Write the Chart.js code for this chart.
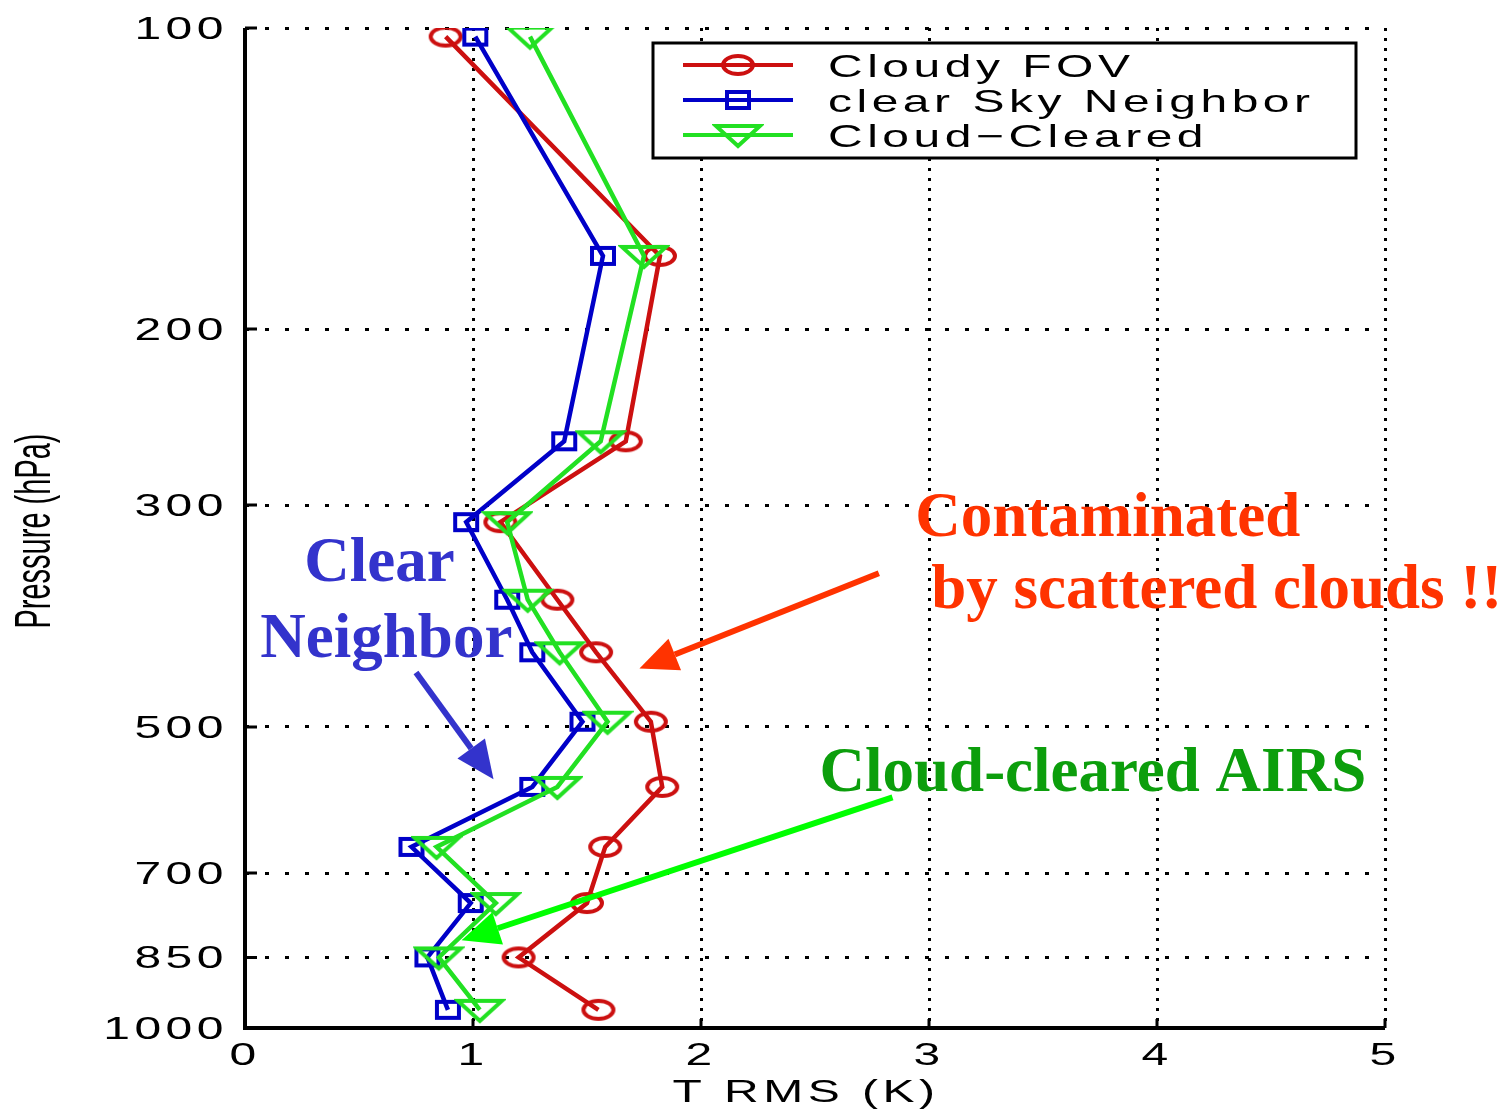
<!DOCTYPE html>
<html>
<head>
<meta charset="utf-8">
<title>T RMS profile</title>
<script src="https://cdn.jsdelivr.net/npm/chart.js@4.4.1/dist/chart.umd.min.js"></script>
<style>
  html, body { margin: 0; padding: 0; background: #fff; }
  canvas { display: block; }
</style>
</head>
<body>
<canvas id="rmsChart" width="1512" height="1109"></canvas>
<script>
// pressure levels (hPa) and temperature RMS (K) at each level
const pressureLevels   = [102, 169, 259, 312, 373, 421, 494, 574, 659, 750, 850, 959];
const cloudyFov        = [0.88, 1.82, 1.67, 1.12, 1.37, 1.54, 1.78, 1.83, 1.58, 1.50, 1.20, 1.55];
const clearSkyNeighbor = [1.01, 1.57, 1.40, 0.97, 1.15, 1.26, 1.48, 1.26, 0.73, 0.99, 0.80, 0.89];
const cloudCleared     = [1.25, 1.75, 1.56, 1.15, 1.24, 1.38, 1.59, 1.37, 0.84, 1.10, 0.85, 1.03];

const seriesLabels = ['Cloudy FOV', 'clear Sky Neighbor', 'Cloud\u2212Cleared'];
const xTicks = [0, 1, 2, 3, 4, 5];
const yTicks = [100, 200, 300, 500, 700, 850, 1000];
const xTitle = 'T RMS (K)';
const yTitle = 'Pressure (hPa)';

// callouts, placed in data units (T RMS, hPa)
const notes = [
  { text: 'Contaminated',           x: 2.94, p: 322, color: '#FF3300', align: 'left' },
  { text: 'by scattered clouds !!', x: 3.01, p: 380, color: '#FF3300', align: 'left' },
  { text: 'Clear',                  x: 0.59, p: 357, color: '#3333CC', align: 'center' },
  { text: 'Neighbor',               x: 0.62, p: 426, color: '#3333CC', align: 'center' },
  { text: 'Cloud-cleared AIRS',     x: 2.52, p: 579, color: '#0C9E0C', align: 'left' }
];
const arrows = [
  { from: [2.78, 351], to: [1.73, 437], color: '#FF3300' },
  { from: [0.75, 441], to: [1.09, 564], color: '#3333CC' },
  { from: [2.84, 588], to: [0.95, 817], color: '#00FF00' }
];

const RED = '#CC1010', BLUE = '#0000C8', GREEN = '#22E022';

// hollow markers, wider than tall like the stretched matlab plot
function makeMarker(kind, color) {
  const c = document.createElement('canvas');
  c.width = kind === 'triangle' ? 52 : kind === 'circle' ? 40 : 32;
  c.height = kind === 'triangle' ? 30 : 26;
  const g = c.getContext('2d');
  const cx = c.width / 2, cy = c.height / 2;
  g.strokeStyle = color;
  g.lineWidth = 4;
  g.beginPath();
  if (kind === 'circle') {
    g.ellipse(cx, cy, 15, 9, 0, 0, Math.PI * 2);
  } else if (kind === 'square') {
    g.rect(cx - 11, cy - 8, 22, 16);
  } else {
    g.moveTo(cx - 22, cy - 9);
    g.lineTo(cx + 22, cy - 9);
    g.lineTo(cx, cy + 11);
    g.closePath();
  }
  g.stroke();
  return c;
}

const markers = [makeMarker('circle', RED), makeMarker('square', BLUE), makeMarker('triangle', GREEN)];

function toPoints(values) {
  return values.map((v, i) => ({ x: v, y: pressureLevels[i] }));
}

// text squeezed into the wide matlab look
function wideText(ctx, text, x, y, align) {
  ctx.save();
  ctx.font = '32px "Liberation Sans", Arial, sans-serif';
  ctx.letterSpacing = '3px';
  ctx.textBaseline = 'alphabetic';
  ctx.textAlign = 'left';
  const sx = 1.5;
  const w = ctx.measureText(text).width * sx;
  const x0 = align === 'right' ? x - w : align === 'center' ? x - w / 2 : x;
  ctx.translate(x0, y);
  ctx.scale(sx, 1);
  ctx.fillStyle = '#000';
  ctx.fillText(text, 0, 0);
  ctx.restore();
}

function drawArrow(ctx, x1, y1, x2, y2, color) {
  const ang = Math.atan2(y2 - y1, x2 - x1);
  const len = 38, half = 17;
  const bx = x2 - len * Math.cos(ang), by = y2 - len * Math.sin(ang);
  ctx.save();
  ctx.strokeStyle = color;
  ctx.fillStyle = color;
  ctx.lineWidth = 6;
  ctx.beginPath();
  ctx.moveTo(x1, y1);
  ctx.lineTo(bx, by);
  ctx.stroke();
  ctx.beginPath();
  ctx.moveTo(x2, y2);
  ctx.lineTo(bx + half * Math.sin(ang), by - half * Math.cos(ang));
  ctx.lineTo(bx - half * Math.sin(ang), by + half * Math.cos(ang));
  ctx.closePath();
  ctx.fill();
  ctx.restore();
}

const framePlugin = {
  id: 'frame',
  afterDraw(chart) {
    const { ctx, chartArea: a, scales: { x, y } } = chart;
    ctx.save();

    // solid left/bottom axes with inward ticks
    ctx.strokeStyle = '#000';
    ctx.lineWidth = 4;
    ctx.beginPath();
    ctx.moveTo(a.left, a.top);
    ctx.lineTo(a.left, a.bottom);
    ctx.lineTo(a.right, a.bottom);
    ctx.stroke();
    ctx.lineWidth = 3;
    ctx.beginPath();
    yTicks.forEach(v => {
      const py = y.getPixelForValue(v);
      ctx.moveTo(a.left, py);
      ctx.lineTo(a.left + 12, py);
    });
    xTicks.forEach(v => {
      const px = x.getPixelForValue(v);
      ctx.moveTo(px, a.bottom);
      ctx.lineTo(px, a.bottom - 9);
    });
    ctx.stroke();

    // tick labels
    yTicks.forEach(v => wideText(ctx, String(v), a.left - 17, y.getPixelForValue(v) + 11, 'right'));
    xTicks.forEach(v => wideText(ctx, String(v), x.getPixelForValue(v), a.bottom + 37, 'center'));

    // axis titles
    wideText(ctx, xTitle, (a.left + a.right) / 2 - 9, a.bottom + 74, 'center');
    ctx.save();
    ctx.translate(36, (a.top + a.bottom) / 2 + 3);
    ctx.scale(1.75, 1);
    ctx.rotate(-Math.PI / 2);
    ctx.font = '29px "Liberation Sans", Arial, sans-serif';
    ctx.textAlign = 'center';
    ctx.textBaseline = 'middle';
    ctx.fillStyle = '#000';
    ctx.fillText(yTitle, 0, 0);
    ctx.restore();

    // legend box
    const lx = a.left + 408, ly = a.top + 15, lw = 703, lh = 115;
    ctx.fillStyle = '#fff';
    ctx.fillRect(lx, ly, lw, lh);
    ctx.strokeStyle = '#000';
    ctx.lineWidth = 3;
    ctx.strokeRect(lx, ly, lw, lh);
    chart.data.datasets.forEach((ds, i) => {
      const ry = ly + 22 + i * 35;
      ctx.strokeStyle = ds.borderColor;
      ctx.lineWidth = 4;
      ctx.beginPath();
      ctx.moveTo(lx + 30, ry);
      ctx.lineTo(lx + 140, ry);
      ctx.stroke();
      const m = ds.pointStyle;
      ctx.drawImage(m, lx + 85 - m.width / 2, ry - m.height / 2);
      wideText(ctx, ds.label, lx + 175, ry + 12, 'left');
    });

    // callouts
    arrows.forEach(ar => {
      drawArrow(ctx,
        x.getPixelForValue(ar.from[0]), y.getPixelForValue(ar.from[1]),
        x.getPixelForValue(ar.to[0]), y.getPixelForValue(ar.to[1]), ar.color);
    });
    ctx.font = 'bold 63px "Liberation Serif", "Times New Roman", serif';
    ctx.textBaseline = 'alphabetic';
    notes.forEach(n => {
      ctx.fillStyle = n.color;
      ctx.textAlign = n.align;
      ctx.fillText(n.text, x.getPixelForValue(n.x), y.getPixelForValue(n.p));
    });

    ctx.restore();
  }
};

new Chart(document.getElementById('rmsChart'), {
  type: 'scatter',
  data: {
    datasets: [
      { label: seriesLabels[0], data: toPoints(cloudyFov), borderColor: RED, backgroundColor: RED,
        pointStyle: markers[0], showLine: true, borderWidth: 4.5, order: 3 },
      { label: seriesLabels[1], data: toPoints(clearSkyNeighbor), borderColor: BLUE, backgroundColor: BLUE,
        pointStyle: markers[1], showLine: true, borderWidth: 4.5, order: 2 },
      { label: seriesLabels[2], data: toPoints(cloudCleared), borderColor: GREEN, backgroundColor: GREEN,
        pointStyle: markers[2], showLine: true, borderWidth: 4.5, order: 1 }
    ]
  },
  options: {
    responsive: false,
    animation: false,
    layout: { padding: { left: 245, right: 127, top: 28, bottom: 81 }, autoPadding: false },
    plugins: { legend: { display: false }, tooltip: { enabled: false } },
    scales: {
      x: {
        type: 'linear', min: 0, max: 5,
        ticks: { display: false, stepSize: 1 },
        grid: { color: '#000', lineWidth: 3, drawTicks: false },
        border: { display: false, dash: [3, 7] }
      },
      y: {
        type: 'logarithmic', reverse: true, min: 100, max: 1000,
        afterBuildTicks: scale => { scale.ticks = yTicks.map(v => ({ value: v })); },
        ticks: { display: false },
        grid: { color: '#000', lineWidth: 3, drawTicks: false },
        border: { display: false, dash: [4, 16] }
      }
    }
  },
  plugins: [framePlugin]
});
</script>
</body>
</html>
